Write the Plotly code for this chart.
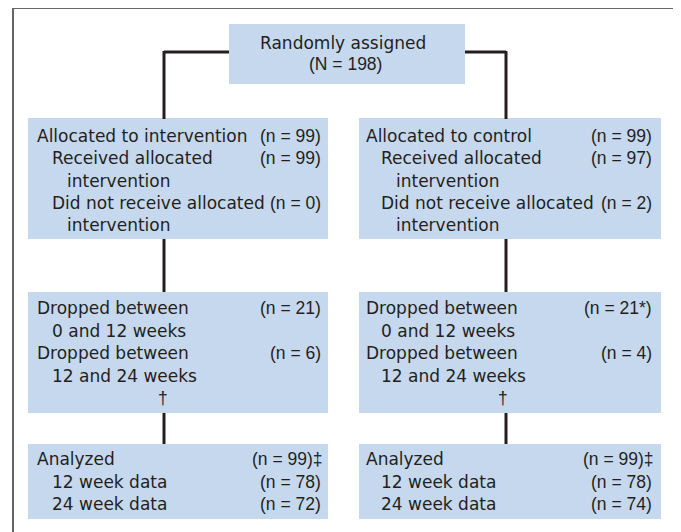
import plotly.graph_objects as go

# ---- data ----
total_n = 198
arm_names = ["intervention", "control"]
alloc_n = [99, 99]
received_n = [99, 97]
not_received_n = [0, 2]
drop_0_12 = ["21", "21*"]
drop_12_24 = ["6", "4"]
analyzed_n = [99, 99]
wk12_n = [78, 78]
wk24_n = [72, 74]

W, H = 681, 532
OFF = 8  # page body margin offset
FILL = "#c6d8ee"
TXT = "#231f20"
FONT = dict(family="DejaVu Sans, sans-serif", size=17, color=TXT)
NFONT = dict(family="Liberation Sans, Arial, sans-serif", size=17.5, color=TXT)

fig = go.Figure()
shapes = []
ann = []

def box(x0, y0, x1, y1):
    shapes.append(dict(type="rect", xref="x", yref="y", x0=x0, y0=y0, x1=x1, y1=y1,
                       fillcolor=FILL, line=dict(width=0), layer="below"))

def line(x0, y0, x1, y1, color="#231f20", width=3):
    shapes.append(dict(type="line", xref="x", yref="y", x0=x0, y0=y0, x1=x1, y1=y1,
                       line=dict(color=color, width=width)))

def text(x, y, s, anchor="left", font=FONT):
    ann.append(dict(x=x, y=y, xref="x", yref="y", text=s, showarrow=False,
                    xanchor=anchor, yanchor="middle", font=font, align=anchor))

# outer frame
shapes.append(dict(type="rect", xref="x", yref="y", x0=13, y0=8, x1=675, y1=560,
                   line=dict(color="#666666", width=2), fillcolor="rgba(0,0,0,0)"))

# connectors
line(164, 52, 229, 52)
line(465, 52, 506, 52)
for cx in (164, 506):
    line(cx, 51, cx, 119)
    line(cx, 239, cx, 292)
    line(cx, 413, cx, 444)

# top box
box(229, 24, 465, 84)
text(343, 43, "Randomly assigned", "center")
text(345, 64, f"(N = {total_n})", "center", NFONT)

cols = [dict(x0=28, x1=328, tx=35, rx=323, dx=163),
        dict(x0=359, x1=661, tx=364, rx=654, dx=503)]

for i, c in enumerate(cols):
    x0, x1, tx, rx = c["x0"], c["x1"], c["tx"], c["rx"]
    # box 1
    box(x0, 118, x1, 239)
    text(tx, 136, f"Allocated to {arm_names[i]}")
    text(rx, 136, f"(n = {alloc_n[i]})", "right", NFONT)
    text(tx + 15, 158, "Received allocated")
    text(rx, 158, f"(n = {received_n[i]})", "right", NFONT)
    text(tx + 30, 181, "intervention")
    text(tx + 15, 203, "Did not receive allocated")
    text(rx, 203, f"(n = {not_received_n[i]})", "right", NFONT)
    text(tx + 30, 225, "intervention")
    # box 2
    box(x0, 292, x1, 413)
    text(tx, 308, "Dropped between")
    text(rx, 308, f"(n = {drop_0_12[i]})", "right", NFONT)
    text(tx + 15, 331, "0 and 12 weeks")
    text(tx, 353, "Dropped between")
    text(rx, 353, f"(n = {drop_12_24[i]})", "right", NFONT)
    text(tx + 15, 376, "12 and 24 weeks")
    text(c["dx"], 398, "†", "center", NFONT)
    # box 3
    box(x0, 444, x1, 519)
    text(tx, 459, "Analyzed")
    text(rx + 2, 459, f"(n = {analyzed_n[i]})‡", "right", NFONT)
    text(tx + 15, 482, "12 week data")
    text(rx, 482, f"(n = {wk12_n[i]})", "right", NFONT)
    text(tx + 15, 504, "24 week data")
    text(rx, 504, f"(n = {wk24_n[i]})", "right", NFONT)

fig.update_layout(
    width=W, height=H, margin=dict(l=0, r=0, t=0, b=0),
    paper_bgcolor="white", plot_bgcolor="white",
    xaxis=dict(range=[OFF, W + OFF], visible=False, fixedrange=True),
    yaxis=dict(range=[H + OFF, OFF], visible=False, fixedrange=True),
    shapes=shapes, annotations=ann, showlegend=False,
)
fig.write_html("out.html")
